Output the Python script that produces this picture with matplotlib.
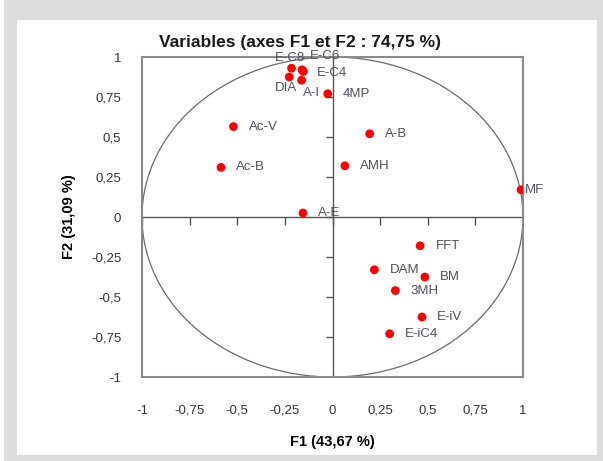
import numpy as np
import matplotlib
matplotlib.use("Agg")
import matplotlib.pyplot as plt
from matplotlib.patches import Circle, Rectangle

# 变量坐标 (F1, F2)
labels = ["MF", "A-B", "AMH", "4MP", "Ac-V", "Ac-B", "A-E", "FFT", "DAM", "BM",
          "3MH", "E-iV", "E-iC4", "E-C8", "E-C6", "E-C4", "DIA", "A-I"]
f1 = [0.99, 0.195, 0.065, -0.025, -0.52, -0.585, -0.155, 0.46, 0.22, 0.485,
      0.33, 0.47, 0.30, -0.215, -0.16, -0.153, -0.227, -0.162]
f2 = [0.17, 0.52, 0.32, 0.77, 0.565, 0.31, 0.025, -0.18, -0.33, -0.375,
      -0.46, -0.625, -0.73, 0.93, 0.92, 0.91, 0.875, 0.855]

ticks = [-1, -0.75, -0.5, -0.25, 0, 0.25, 0.5, 0.75, 1]
tick_labels = ["-1", "-0,75", "-0,5", "-0,25", "0", "0,25", "0,5", "0,75", "1"]

# 标签偏移 (points)
offsets = {"E-C8": (-12, 7), "E-C6": (6, 10), "E-C4": (10, -1),
           "DIA": (-10, -8), "A-I": (1, -9), "MF": (3, 0)}

plt.rcParams['font.family'] = ['Liberation Sans', 'DejaVu Sans']

fig = plt.figure(figsize=(6.03, 4.61), dpi=100, facecolor="#dcdcdc")
# 白色面板 + 左侧白条
for (x0, y0, w, h) in [(17, 20, 580, 435), (0, 0, 4, 461)]:
    r = Rectangle((x0 / 603, 1 - (y0 + h) / 461), w / 603, h / 461,
                  transform=fig.transFigure, facecolor="white", edgecolor="none")
    r.set_zorder(-10)
    fig.add_artist(r)

ax = fig.add_axes([142 / 603, 1 - 377 / 461, 381 / 603, 320 / 461])
ax.set_zorder(5)
ax.set_xlim(-1, 1)
ax.set_ylim(-1, 1)

for s in ax.spines.values():
    s.set_color("#8a8a8a")
    s.set_linewidth(1.5)

# 中心十字线和刻度
ax.axhline(0, color="#555555", lw=1.0, zorder=1)
ax.axvline(0, color="#555555", lw=1.0, zorder=1)
ax.plot(ticks, np.zeros(len(ticks)), ls="none", marker=3, ms=6,
        mec="#555555", mew=1.0, zorder=1)
ax.plot(np.zeros(len(ticks)), ticks, ls="none", marker=0, ms=5,
        mec="#555555", mew=1.0, zorder=1)

ax.add_patch(Circle((0, 0), 1, fill=False, edgecolor="#6a6a6a", lw=0.9, zorder=1))

ax.scatter(f1, f2, s=40, color="#ff0000", zorder=3, edgecolors="none")
for name, x, y in zip(labels, f1, f2):
    dx, dy = offsets.get(name, (11, 0))
    ax.annotate(name, (x, y), xytext=(dx, dy), textcoords="offset points",
                fontsize=9.5, color="#505060", va="center", ha="left", zorder=4)

ax.set_xticks(ticks)
ax.set_xticklabels(tick_labels)
ax.set_yticks(ticks)
ax.set_yticklabels(tick_labels)
ax.tick_params(axis="both", length=0, labelsize=9.5, labelcolor="#33334a")
ax.tick_params(axis="x", pad=20)
ax.tick_params(axis="y", pad=15)

ax.set_xlabel("F1 (43,67 %)", fontsize=10.5, fontweight="bold", labelpad=13)
ax.set_ylabel("F2 (31,09 %)", fontsize=10.5, fontweight="bold", labelpad=11)

fig.text(0.497, 1 - 42 / 461, "Variables (axes F1 et F2 : 74,75 %)", ha="center",
         va="center", fontsize=12.5, fontweight="bold", color="#1a1a1a")

fig.savefig("out.png", dpi=100, facecolor=fig.get_facecolor())
